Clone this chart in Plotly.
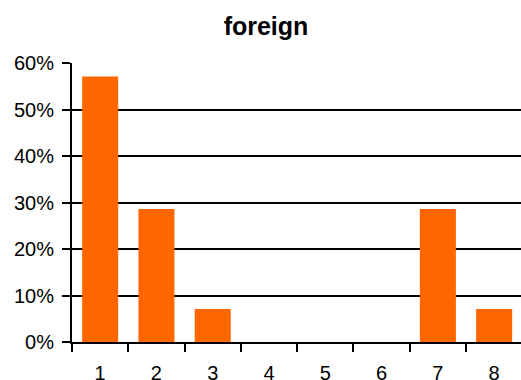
import plotly.graph_objects as go

categories = ["1", "2", "3", "4", "5", "6", "7", "8"]
shares = [0.571, 0.286, 0.071, 0.0, 0.0, 0.0, 0.286, 0.071]
y_ticks = [0, 0.1, 0.2, 0.3, 0.4, 0.5, 0.6]
y_tick_text = ["0%", "10%", "20%", "30%", "40%", "50%", "60%"]

W, H = 521, 380
FONT = "Liberation Sans, Arial, sans-serif"

fig = go.Figure(
    go.Bar(
        x=categories,
        y=shares,
        marker=dict(color="#FF6600", line=dict(width=0)),
    )
)

fig.update_layout(
    width=W,
    height=H,
    margin=dict(l=72, r=0, t=63, b=38),
    paper_bgcolor="white",
    plot_bgcolor="white",
    bargap=0.36,
    showlegend=False,
    font=dict(family=FONT, color="black", size=20),
    title=dict(
        text="<b>foreign</b>",
        font=dict(family=FONT, size=25, color="black"),
        x=266 / W,
        xref="container",
        xanchor="center",
        y=1 - 26 / H,
        yref="container",
        yanchor="middle",
    ),
)

fig.update_xaxes(
    type="category",
    range=[-0.5, 7.477],
    tickson="boundaries",
    ticks="outside",
    ticklen=8,
    tickwidth=2,
    tickcolor="black",
    showline=True,
    linecolor="black",
    linewidth=2,
    showgrid=False,
    automargin=False,
    ticklabelstandoff=12,
    tickfont=dict(family=FONT, size=20, color="black"),
)

fig.update_yaxes(
    range=[0, 0.6],
    tickvals=y_ticks,
    ticktext=y_tick_text,
    ticks="outside",
    ticklen=8,
    tickwidth=2,
    tickcolor="black",
    showline=True,
    linecolor="black",
    linewidth=2,
    showgrid=True,
    gridcolor="black",
    gridwidth=2,
    zeroline=False,
    automargin=False,
    ticklabelstandoff=4,
    tickfont=dict(family=FONT, size=20, color="black"),
)

fig.write_html("out.html")
